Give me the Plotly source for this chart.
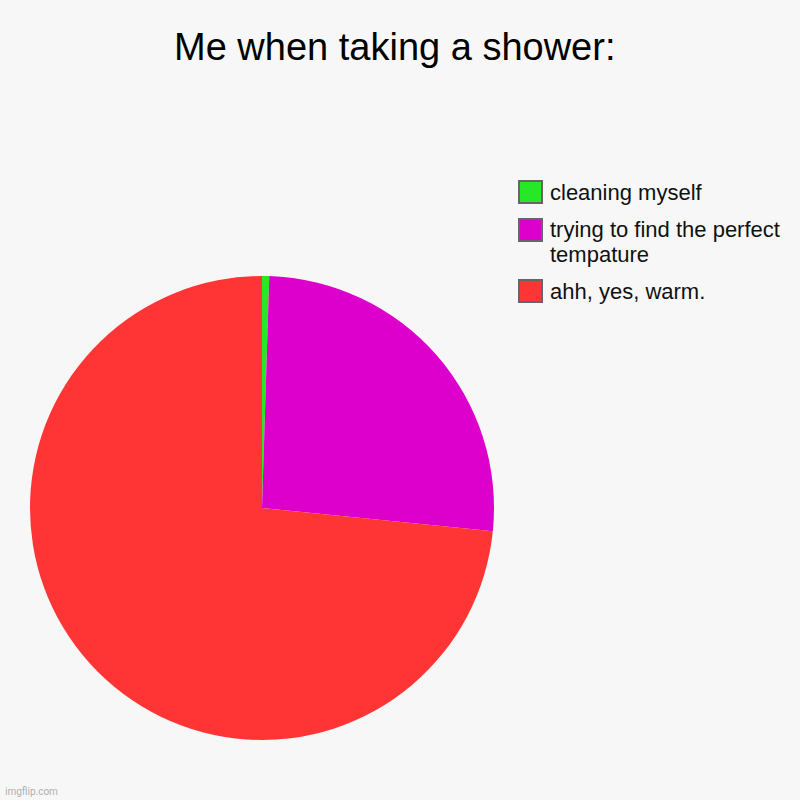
import textwrap
import plotly.graph_objects as go

# chart data
title = "Me when taking a shower:"
labels = ["cleaning myself", "trying to find the perfect tempature", "ahh, yes, warm."]
values = [0.5, 26.1, 73.4]
colors = ["#26e826", "#dd00cc", "#ff3535"]

fig = go.Figure()
fig.add_trace(go.Pie(
    labels=labels,
    values=values,
    marker=dict(colors=colors, line=dict(width=0)),
    sort=False,
    direction="clockwise",
    rotation=0,
    textinfo="none",
    hoverinfo="label+value",
    showlegend=False,
    domain=dict(x=[30 / 800, 494 / 800], y=[1 - 740 / 800, 1 - 276 / 800]),
))

# legend drawn by hand, imgflip style
W = H = 800
sw_tops = [180, 218, 279]
shapes = []
annotations = []
for lab, col, top in zip(labels, colors, sw_tops):
    shapes.append(dict(
        type="rect", xref="paper", yref="paper",
        x0=519 / W, x1=542 / W, y0=1 - (top + 23) / H, y1=1 - (top + 1) / H,
        fillcolor=col, line=dict(color="#666666", width=2),
    ))
    lines = textwrap.wrap(lab, 26)
    for i, ln in enumerate(lines):
        annotations.append(dict(
            text=ln, xref="paper", yref="paper",
            x=548 / W, y=1 - (top + 12 + 24 * i) / H,
            xanchor="left", yanchor="middle", showarrow=False,
            font=dict(family="Liberation Sans, Arial", size=22, color="#111111"),
        ))

annotations.append(dict(
    text=title, xref="paper", yref="paper", x=394 / W, y=1 - 47 / H,
    xanchor="center", yanchor="middle", showarrow=False,
    font=dict(family="Liberation Sans, Arial", size=38, color="#000000"),
))
annotations.append(dict(
    text="imgflip.com", xref="paper", yref="paper", x=3 / W, y=1 - 791 / H,
    xanchor="left", yanchor="middle", showarrow=False,
    font=dict(family="Roboto, Liberation Sans", size=10, color="#b0b0b0"),
))

fig.update_layout(
    width=W, height=H,
    margin={"r": 0, "t": 0, "l": 0, "b": 0},
    paper_bgcolor="#f7f7f7",
    plot_bgcolor="#f7f7f7",
    shapes=shapes,
    annotations=annotations,
)

fig.write_html("out.html", config={"displayModeBar": False},
               post_script="document.body.style.margin='0';")
